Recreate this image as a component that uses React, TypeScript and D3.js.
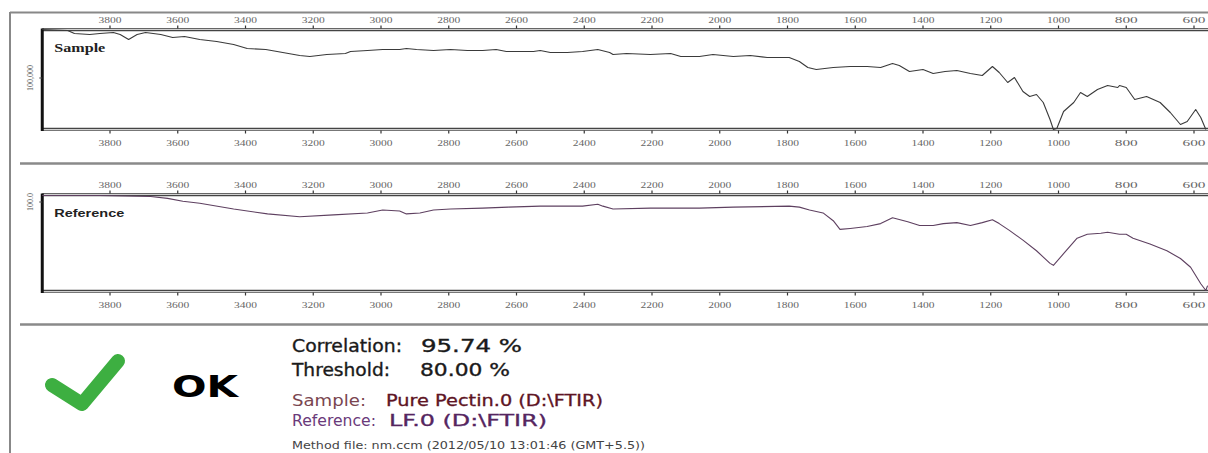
import React from 'react';
import * as d3 from 'd3';

const tickValues = [3800, 3600, 3400, 3200, 3000, 2800, 2600, 2400, 2200, 2000, 1800, 1600, 1400, 1200, 1000, 800, 600];

const sampleWn = [4000, 3925, 3905, 3860, 3830, 3790, 3770, 3745, 3720, 3695, 3650, 3615, 3580, 3535, 3485, 3435, 3395, 3340, 3290, 3240, 3210, 3160, 3105, 3090, 3040, 2995, 2945, 2925, 2895, 2845, 2795, 2745, 2700, 2660, 2630, 2550, 2530, 2500, 2450, 2405, 2360, 2325, 2315, 2275, 2205, 2145, 2115, 2060, 2020, 1990, 1960, 1910, 1860, 1795, 1765, 1740, 1715, 1665, 1615, 1565, 1525, 1490, 1470, 1440, 1400, 1370, 1335, 1300, 1260, 1225, 1195, 1175, 1150, 1130, 1105, 1085, 1065, 1045, 1025, 1015, 1005, 985, 955, 935, 915, 885, 855, 825, 820, 800, 775, 740, 700, 670, 640, 620, 595, 580, 565];
const sampleT = [100, 99, 96, 95, 96, 97, 95, 90, 95, 97, 95, 92, 93, 90, 88, 85, 81, 80, 77, 74, 73, 75, 76, 78, 79, 80, 80, 81, 80, 79, 80, 79, 79, 80, 78, 78, 79, 77, 77, 78, 80, 77, 75, 76, 75, 76, 73, 73, 75, 74, 73, 74, 72, 72, 68, 62, 60, 62, 63, 63, 62, 66, 64, 58, 60, 56, 58, 59, 56, 54, 63, 57, 47, 52, 38, 33, 35, 27, 10, 0, 1, 18, 27, 37, 33, 40, 44, 42, 44, 42, 30, 33, 27, 17, 5, 8, 20, 12, 0];

const refWn = [4000, 3830, 3680, 3630, 3585, 3535, 3435, 3335, 3240, 3140, 3040, 2995, 2945, 2925, 2885, 2845, 2795, 2700, 2625, 2530, 2405, 2360, 2345, 2315, 2205, 2060, 1960, 1795, 1765, 1735, 1695, 1665, 1645, 1615, 1565, 1525, 1490, 1445, 1410, 1370, 1340, 1300, 1260, 1225, 1195, 1175, 1145, 1105, 1065, 1025, 1015, 985, 945, 915, 875, 855, 820, 800, 780, 730, 680, 640, 610, 580, 565, 560];
const refT = [99, 99, 98, 96, 93, 91, 85, 80, 77, 79, 81, 84, 83, 80, 81, 84, 85, 86, 87, 88, 88, 90, 88, 85, 86, 86, 87, 88, 87, 84, 81, 73, 64, 65, 67, 70, 76, 72, 68, 68, 70, 71, 68, 71, 74, 70, 63, 53, 42, 29, 27, 39, 55, 59, 60, 61, 59, 59, 55, 49, 42, 34, 25, 8, 1, 6];

const resultLabels = ['Correlation:', 'Threshold:'];
const resultValues = ['95.74 %', '80.00 %'];
const resultLabelWidths = [110, 98];
const resultValueWidths = [101, 90];

const W = 1208;
const H = 453;
const x = d3.scaleLinear().domain([3800, 600]).range([110, 1194]);
const boxLeft = x(4000);
const boxRight = 1212;

type PanelProps = {
  top: number;
  bottom: number;
  label: string;
  labelFont: string;
  labelWidth: number;
  yLabel: string;
  yLabelY: number;
  wn: number[];
  vals: number[];
  color: string;
};

function Panel({ top, bottom, label, labelFont, labelWidth, yLabel, yLabelY, wn, vals, color }: PanelProps) {
  const y = d3.scaleLinear().domain([0, 100]).range([bottom, top]);
  const pts: [number, number][] = wn.map((w, i) => [w, vals[i]]);
  const line = d3
    .line<[number, number]>()
    .x((d) => x(d[0]))
    .y((d) => y(d[1]))
    .curve(d3.curveLinear);
  return (
    <g>
      <line x1={boxLeft} x2={boxRight} y1={top - 1} y2={top - 1} stroke="#666" strokeWidth={1} />
      <line x1={boxLeft} x2={boxRight} y1={top + 1} y2={top + 1} stroke="#444" strokeWidth={1.3} />
      <line x1={boxLeft} x2={boxRight} y1={bottom - 1} y2={bottom - 1} stroke="#444" strokeWidth={1.3} />
      <line x1={boxLeft} x2={boxRight} y1={bottom + 1} y2={bottom + 1} stroke="#777" strokeWidth={1} />
      <line x1={boxLeft} x2={boxLeft} y1={top - 1} y2={bottom + 1.5} stroke="#111" strokeWidth={3} />
      {tickValues.map((t) => (
        <g key={t}>
          <line x1={x(t)} x2={x(t)} y1={top - 4} y2={top - 1} stroke="#333" strokeWidth={1.2} />
          <line x1={x(t)} x2={x(t)} y1={bottom + 1} y2={bottom + 4} stroke="#333" strokeWidth={1.2} />
          <text x={x(t)} y={top - 7} textAnchor="middle" fontSize={8.5} fill="#666" fontFamily="Liberation Serif, serif" textLength={23} lengthAdjust="spacingAndGlyphs">
            {t}
          </text>
          <text x={x(t)} y={bottom + 16} textAnchor="middle" fontSize={8.5} fill="#666" fontFamily="Liberation Serif, serif" textLength={23} lengthAdjust="spacingAndGlyphs">
            {t}
          </text>
        </g>
      ))}
      <line x1={boxLeft - 3} x2={boxLeft} y1={yLabelY} y2={yLabelY} stroke="#444" strokeWidth={1} />
      <text
        transform={`translate(${boxLeft - 9},${yLabelY}) rotate(-90)`}
        textAnchor="middle"
        fontSize={8}
        fill="#555"
        fontFamily="Liberation Serif, serif"
      >
        {yLabel}
      </text>
      <text x={boxLeft + 12} y={top + 22} fontSize={11.5} fontWeight="bold" fill="#222" fontFamily={labelFont} textLength={labelWidth} lengthAdjust="spacingAndGlyphs">
        {label}
      </text>
      <path d={line(pts) || ''} fill="none" stroke={color} strokeWidth={1.1} strokeLinejoin="round" />
    </g>
  );
}

export default function App() {
  const font = 'DejaVu Sans, sans-serif';
  return (
    <svg width={W} height={H} viewBox={`0 0 ${W} ${H}`} style={{ position: 'absolute', left: 0, top: 0, background: '#fff', display: 'block' }}>
      <rect x={0} y={0} width={W} height={H} fill="#fff" />
      <line x1={10} x2={10} y1={12} y2={H} stroke="#888" strokeWidth={2} />
      <line x1={10} x2={W} y1={12.5} y2={12.5} stroke="#888" strokeWidth={2} />
      <line x1={20} x2={W} y1={163.5} y2={163.5} stroke="#8a8a8a" strokeWidth={2.5} />
      <line x1={20} x2={W} y1={324.5} y2={324.5} stroke="#8a8a8a" strokeWidth={2.5} />

      <Panel
        top={29.5}
        bottom={129.5}
        label="Sample"
        labelFont="Liberation Serif, serif"
        labelWidth={51}
        yLabel="100,000"
        yLabelY={78}
        wn={sampleWn}
        vals={sampleT}
        color="#3a3a3a"
      />
      <Panel
        top={194.5}
        bottom={291.5}
        label="Reference"
        labelFont="Liberation Sans, Arial, sans-serif"
        labelWidth={70}
        yLabel="100.0"
        yLabelY={202}
        wn={refWn}
        vals={refT}
        color="#5e4060"
      />

      <path d="M52,385 L82,404 L118,361" fill="none" stroke="#3daf41" strokeWidth={14} strokeLinecap="round" strokeLinejoin="round" />
      <text x={172} y={397} fontSize={30} fontWeight="bold" fill="#000" fontFamily={font} textLength={66} lengthAdjust="spacingAndGlyphs">
        OK
      </text>

      {resultLabels.map((l, i) => (
        <g key={l}>
          <text x={292} y={352 + i * 24} fontSize={17.5} fill="#1a1a1a" stroke="#1a1a1a" strokeWidth={0.35} fontFamily={font} textLength={resultLabelWidths[i]} lengthAdjust="spacingAndGlyphs">
            {l}
          </text>
          <text x={i === 0 ? 421 : 420} y={352 + i * 24} fontSize={17.5} fill="#1a1a1a" stroke="#1a1a1a" strokeWidth={0.35} fontFamily={font} textLength={resultValueWidths[i]} lengthAdjust="spacingAndGlyphs">
            {resultValues[i]}
          </text>
        </g>
      ))}
      <text x={292} y={406} fontSize={15} fill="#7a4650" fontFamily={font} textLength={74} lengthAdjust="spacingAndGlyphs">
        Sample:
      </text>
      <text x={386} y={406} fontSize={15} fill="#5e1424" stroke="#5e1424" strokeWidth={0.3} fontFamily={font} textLength={217} lengthAdjust="spacingAndGlyphs">
        Pure Pectin.0 (D:\FTIR)
      </text>
      <text x={292} y={426} fontSize={15} fill="#6a3a7a" fontFamily={font} textLength={84} lengthAdjust="spacingAndGlyphs">
        Reference:
      </text>
      <text x={389} y={426} fontSize={15} fill="#55255f" stroke="#55255f" strokeWidth={0.3} fontFamily={font} textLength={158} lengthAdjust="spacingAndGlyphs">
        LF.0 (D:\FTIR)
      </text>
      <text x={292} y={449} fontSize={11} fill="#444" fontFamily={font} textLength={353} lengthAdjust="spacingAndGlyphs">
        Method file:  nm.ccm (2012/05/10 13:01:46 (GMT+5.5))
      </text>
    </svg>
  );
}
